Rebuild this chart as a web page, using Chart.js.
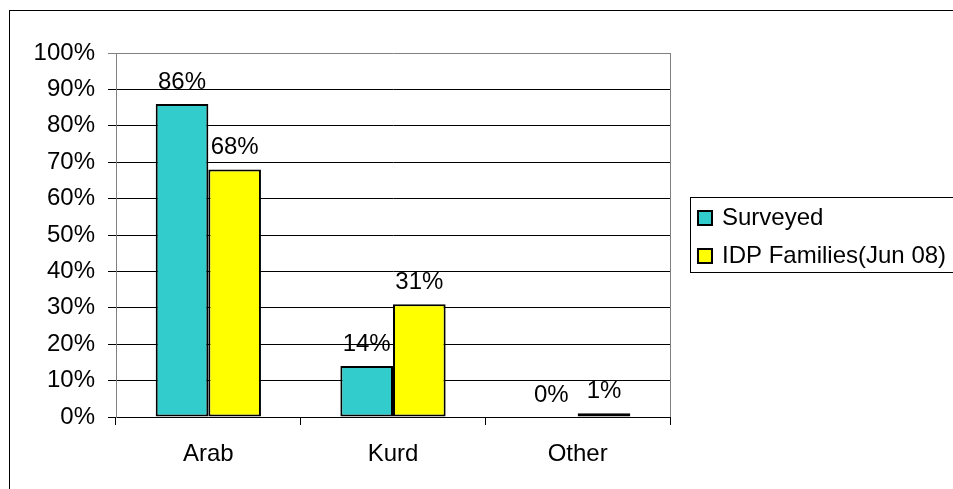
<!DOCTYPE html>
<html>
<head>
<meta charset="utf-8">
<script src="https://cdn.jsdelivr.net/npm/chart.js@4"></script>
<style>
  html, body { margin: 0; padding: 0; background: #fff; }
  #wrap { width: 953px; height: 489px; }
</style>
</head>
<body>
<div id="wrap"><canvas id="chart"></canvas></div>
<script>
const categories = ['Arab', 'Kurd', 'Other'];
const surveyed = [86, 14, 0];
const idpFamilies = [68, 31, 1];
const seriesNames = ['Surveyed', 'IDP Families(Jun 08)'];
const yTicks = [0, 10, 20, 30, 40, 50, 60, 70, 80, 90, 100];

const FONT = '"Liberation Sans", Arial, sans-serif';

// value labels above each bar
const barLabels = {
    id: 'barLabels',
    afterDatasetsDraw(chart) {
        const ctx = chart.ctx;
        ctx.save();
        ctx.font = '24px ' + FONT;
        ctx.fillStyle = '#000';
        ctx.textAlign = 'center';
        ctx.textBaseline = 'middle';
        chart.data.datasets.forEach((ds, i) => {
            chart.getDatasetMeta(i).data.forEach((bar, j) => {
                ctx.fillText(ds.data[j] + '%', bar.x, bar.y - 22);
            });
        });
        ctx.restore();
    }
};

// outer frame, plot border and legend box
const frame = {
    id: 'frame',
    afterDraw(chart) {
        const ctx = chart.ctx;
        const a = chart.chartArea;
        ctx.save();
        ctx.lineWidth = 1;
        ctx.strokeStyle = '#000';
        ctx.strokeRect(9.5, 10.5, 1000, 1000);

        ctx.strokeStyle = '#808080';
        ctx.beginPath();
        ctx.moveTo(Math.round(a.right) + 0.5, a.top);
        ctx.lineTo(Math.round(a.right) + 0.5, a.bottom);
        ctx.stroke();

        // legend
        ctx.strokeStyle = '#000';
        ctx.strokeRect(690.5, 197.5, 300, 75);
        ctx.font = '24px ' + FONT;
        ctx.textBaseline = 'middle';
        ctx.textAlign = 'left';
        chart.data.datasets.forEach((ds, i) => {
            const y = 218 + i * 38;
            ctx.fillStyle = ds.backgroundColor;
            ctx.fillRect(698, y - 7, 14, 14);
            ctx.lineWidth = 2;
            ctx.strokeStyle = '#000';
            ctx.strokeRect(698, y - 7, 14, 14);
            ctx.fillStyle = '#000';
            ctx.fillText(ds.label, 722, y);
        });
        ctx.restore();
    }
};

new Chart(document.getElementById('chart'), {
    type: 'bar',
    data: {
        labels: categories,
        datasets: [{
            label: seriesNames[0],
            data: surveyed,
            backgroundColor: '#33CCCC',
            borderColor: '#000',
            borderWidth: 2,
            borderSkipped: false
        }, {
            label: seriesNames[1],
            data: idpFamilies,
            backgroundColor: '#FFFF00',
            borderColor: '#000',
            borderWidth: 2,
            borderSkipped: false
        }]
    },
    options: {
        responsive: true,
        maintainAspectRatio: false,
        animation: false,
        events: [],
        layout: { padding: { left: 16, top: 53, right: 283, bottom: 22 } },
        datasets: { bar: { categoryPercentage: 0.57, barPercentage: 1 } },
        plugins: { legend: { display: false }, tooltip: { enabled: false } },
        scales: {
            x: {
                offset: true,
                grid: {
                    offset: true,
                    drawOnChartArea: false,
                    tickLength: 8,
                    color: '#000'
                },
                border: { color: '#000', width: 1 },
                ticks: { color: '#000', font: { family: FONT, size: 24 }, padding: 15 },
                afterFit(scale) { scale.height = 50; }
            },
            y: {
                min: 0,
                max: 100,
                afterBuildTicks(scale) { scale.ticks = yTicks.map(v => ({ value: v })); },
                grid: {
                    tickLength: 8,
                    color: ctx => (ctx.tick && ctx.tick.value === 100) ? '#808080' : '#000'
                },
                border: { color: '#808080', width: 1 },
                ticks: {
                    color: '#000',
                    font: { family: FONT, size: 24 },
                    padding: 13,
                    callback: v => v + '%'
                },
                afterFit(scale) { scale.width = 100; }
            }
        }
    },
    plugins: [barLabels, frame]
});
</script>
</body>
</html>
